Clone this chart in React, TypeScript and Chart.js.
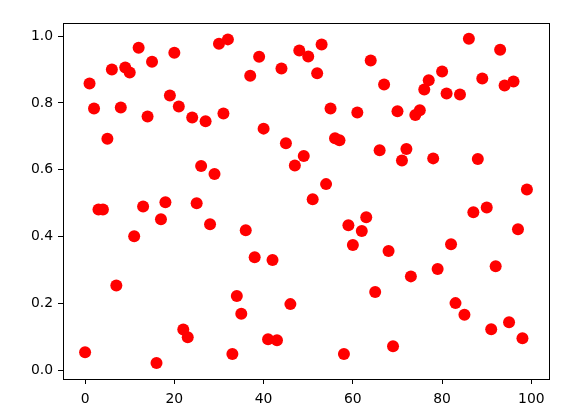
import React, { useEffect, useRef } from "react";
import { Chart, registerables } from "chart.js";

Chart.register(...registerables);

const yValues: number[] = [
  0.054, 0.858, 0.783, 0.481, 0.481, 0.693, 0.900, 0.254, 0.786, 0.906,
  0.891, 0.401, 0.965, 0.490, 0.759, 0.923, 0.022, 0.452, 0.503, 0.822,
  0.950, 0.789, 0.122, 0.099, 0.756, 0.500, 0.611, 0.745, 0.437, 0.587,
  0.977, 0.768, 0.990, 0.049, 0.222, 0.169, 0.419, 0.881, 0.338, 0.938,
  0.723, 0.093, 0.330, 0.090, 0.903, 0.679, 0.198, 0.613, 0.957, 0.641,
  0.939, 0.512, 0.889, 0.975, 0.557, 0.783, 0.694, 0.688, 0.049, 0.434,
  0.375, 0.771, 0.417, 0.458, 0.927, 0.234, 0.658, 0.855, 0.357, 0.072,
  0.775, 0.628, 0.662, 0.281, 0.764, 0.778, 0.840, 0.868, 0.634, 0.303,
  0.894, 0.828, 0.377, 0.201, 0.825, 0.166, 0.992, 0.473, 0.632, 0.873,
  0.487, 0.123, 0.311, 0.959, 0.852, 0.144, 0.864, 0.422, 0.096, 0.541,
];
const xValues: number[] = yValues.map((_, i) => i);
const xTicks: number[] = [0, 20, 40, 60, 80, 100];
const yTicks: number[] = [0.0, 0.2, 0.4, 0.6, 0.8, 1.0];

const framePlugin = {
  id: "frame",
  afterDraw(chart: any) {
    const { ctx, chartArea } = chart;
    ctx.save();
    ctx.strokeStyle = "#000";
    ctx.lineWidth = 1;
    ctx.strokeRect(
      Math.round(chartArea.left) + 0.5,
      Math.round(chartArea.top) + 0.5,
      Math.round(chartArea.right - chartArea.left),
      Math.round(chartArea.bottom - chartArea.top)
    );
    ctx.restore();
  },
};

export default function App() {
  const ref = useRef<HTMLCanvasElement | null>(null);
  useEffect(() => {
    if (!ref.current) return;
    const font = { family: "DejaVu Sans", size: 13.9 };
    const chart = new Chart(ref.current, {
      type: "scatter",
      data: {
        datasets: [
          {
            data: xValues.map((x, i) => ({ x, y: yValues[i] })),
            backgroundColor: "#ff0000",
            borderColor: "#ff0000",
            borderWidth: 0,
            pointRadius: 6,
            pointHoverRadius: 6,
          },
        ],
      },
      options: {
        animation: false,
        responsive: false,
        maintainAspectRatio: false,
        events: [],
        layout: { padding: { left: 0, top: 23, right: 22, bottom: 0 } },
        plugins: { legend: { display: false }, tooltip: { enabled: false } },
        scales: {
          x: {
            type: "linear",
            min: -4.95,
            max: 103.95,
            afterBuildTicks: (s: any) => {
              s.ticks = xTicks.map((v) => ({ value: v }));
            },
            afterFit: (s: any) => {
              s.height = 36;
            },
            grid: {
              display: true,
              drawOnChartArea: false,
              drawTicks: true,
              tickLength: 5,
              color: "#000",
            },
            border: { display: false },
            ticks: {
              color: "#000",
              font,
              padding: 7,
              maxRotation: 0,
              callback: (v: any) => String(v),
            },
          },
          y: {
            type: "linear",
            min: -0.026,
            max: 1.039,
            afterBuildTicks: (s: any) => {
              s.ticks = yTicks.map((v) => ({ value: v }));
            },
            afterFit: (s: any) => {
              s.width = 63;
            },
            grid: {
              display: true,
              drawOnChartArea: false,
              drawTicks: true,
              tickLength: 5,
              color: "#000",
            },
            border: { display: false },
            ticks: {
              color: "#000",
              font,
              padding: 5,
              callback: (v: any) => Number(v).toFixed(1),
            },
          },
        },
      },
      plugins: [framePlugin],
    });
    return () => chart.destroy();
  }, []);
  return (
    <div
      style={{
        position: "fixed",
        left: 0,
        top: 0,
        width: 571,
        height: 415,
        background: "#fff",
      }}
    >
      <canvas ref={ref} width={571} height={415} style={{ width: 571, height: 415 }} />
    </div>
  );
}
